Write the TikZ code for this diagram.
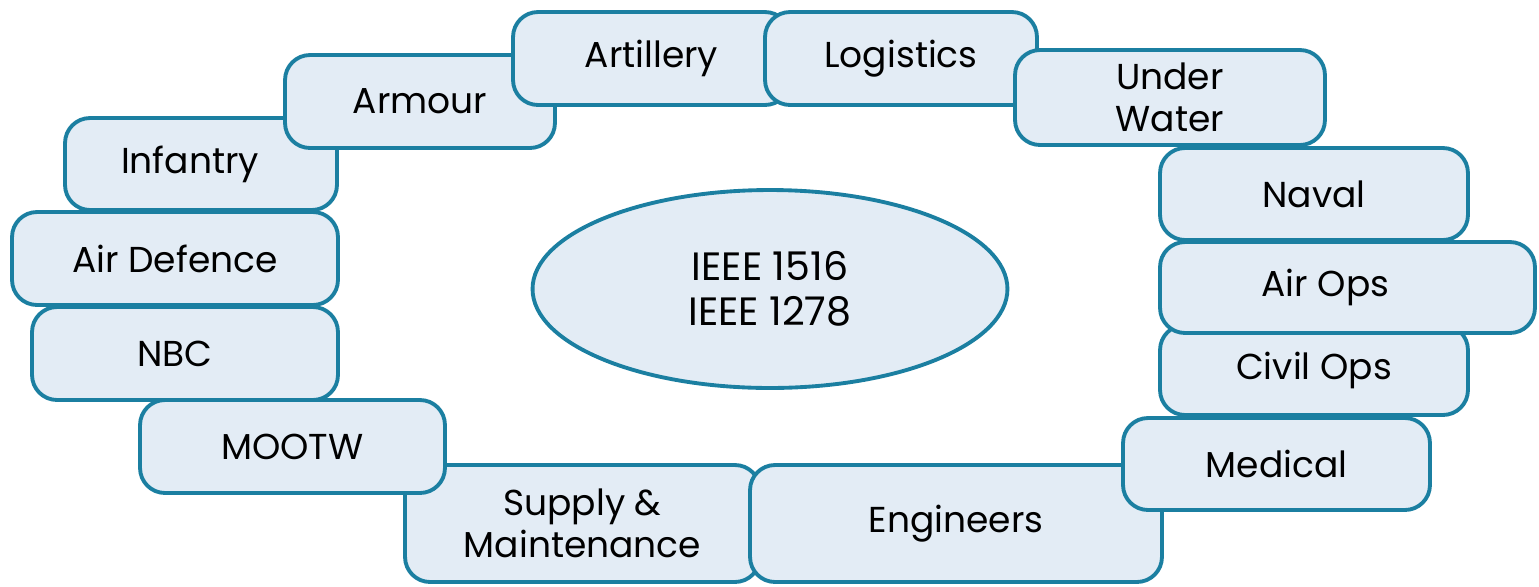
\documentclass[tikz,border=0pt]{standalone}
\usepackage{fontspec}
\setmainfont{Poppins}
\usetikzlibrary{shapes.geometric}
\definecolor{boxline}{HTML}{1B7FA1}
\definecolor{boxfill}{HTML}{E3ECF5}
\begin{document}
\begin{tikzpicture}[x=0.02cm,y=-0.02cm,font=\fontsize{20.5}{24}\selectfont,
	area/.style={draw=boxline,fill=boxfill,line width=2.2pt,rounded corners=0.5cm,align=center,inner sep=0pt},
	std/.style={draw=boxline,fill=boxfill,line width=2.2pt,ellipse,align=center,inner sep=0pt,font=\fontsize{22.5}{25.5}\selectfont}]
	\useasboundingbox (0,0) rectangle (1539,586);

	%bottom row
	\node[area,minimum width=7.1cm,minimum height=2.34cm] (supply) at (582.5,523.5) {Supply \&\\Maintenance};
	\node[area,minimum width=8.24cm,minimum height=2.34cm] (eng) at (956,523.5) {Engineers};

	%right column
	\node[area,minimum width=6.14cm,minimum height=1.84cm] (med) at (1276.5,464) {Medical};
	\node[area,minimum width=6.16cm,minimum height=1.8cm] (civil) at (1314,370) {Civil Ops};
	\node[area,minimum width=6.16cm,minimum height=1.84cm] (naval) at (1314,194) {Naval};
	\node[area,minimum width=7.5cm,minimum height=1.82cm] (airops) at (1347.5,287.5) {Air Ops\hspace*{0.88cm}};

	%top row
	\node[area,minimum width=5.44cm,minimum height=1.84cm] (inf) at (201,164) {Infantry\hspace*{0.44cm}};
	\node[area,minimum width=5.4cm,minimum height=1.86cm] (armour) at (420,101.5) {Armour};
	\node[area,minimum width=5.54cm,minimum height=1.86cm] (art) at (651.5,58.5) {Artillery};
	\node[area,minimum width=5.44cm,minimum height=1.86cm] (log) at (901,58.5) {Logistics};
	\node[area,minimum width=6.2cm,minimum height=1.9cm] (water) at (1170,97.5) {Under\\Water};

	%left column
	\node[area,minimum width=6.52cm,minimum height=1.86cm] (airdef) at (175,258.5) {Air Defence};
	\node[area,minimum width=6.12cm,minimum height=1.86cm] (nbc) at (185,353.5) {NBC\hspace*{0.4cm}};
	\node[area,minimum width=6.1cm,minimum height=1.86cm] (mootw) at (292.5,446.5) {MOOTW};

	%standards
	\node[std,minimum width=9.5cm,minimum height=3.96cm] (ieee) at (770,289) {IEEE 1516\\IEEE 1278};
\end{tikzpicture}
\end{document}
